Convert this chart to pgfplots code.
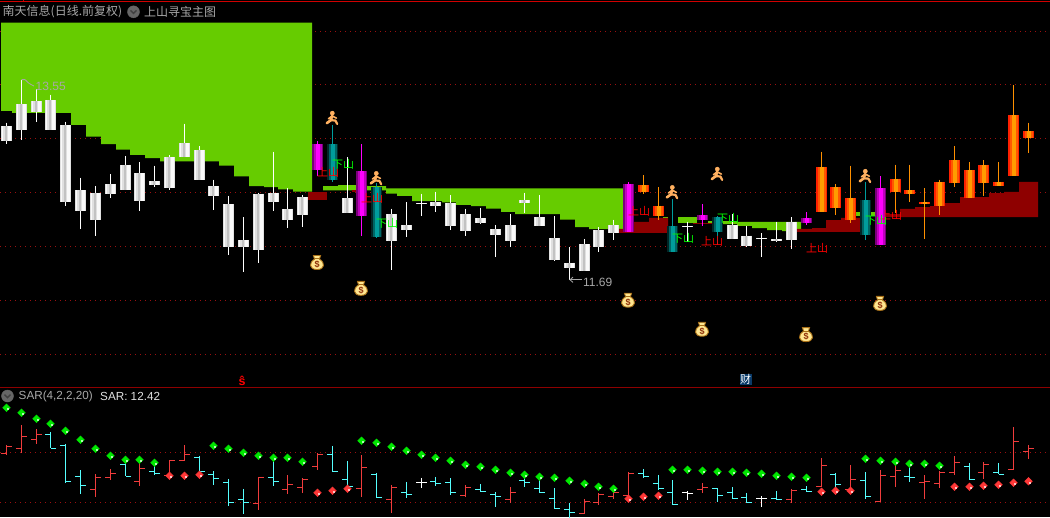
\documentclass[border=0pt]{standalone}
\usepackage{fontspec}
\usepackage{pgfplots}
\usepackage{pgfplotstable}
\pgfplotsset{compat=1.18}
\setmainfont{Liberation Sans}
\newfontfamily\cjk{Noto Sans CJK SC}
\definecolor{gridred}{HTML}{9A1010}
\definecolor{barea}{HTML}{8E0000}
\definecolor{garea}{HTML}{66CC00}
\definecolor{txtgray}{HTML}{A8A8A8}
\definecolor{barred}{HTML}{F03C3C}
\definecolor{barcyan}{HTML}{55FFFF}
\definecolor{wickT}{HTML}{009C9C}
\definecolor{wickO}{HTML}{FF9000}
\definecolor{wickM}{HTML}{FF00FF}
\definecolor{mag1}{HTML}{7A007A}
\definecolor{mag2}{HTML}{C000C0}
\definecolor{org1}{HTML}{FF2000}
\definecolor{org2}{HTML}{FF5800}
\definecolor{org3}{HTML}{FF9C00}
\definecolor{runner}{HTML}{FFB060}
\definecolor{bagfill}{HTML}{FFE690}
\definecolor{bagline}{HTML}{A87018}
\definecolor{sarg}{HTML}{00E800}
\definecolor{sarr}{HTML}{FF3838}
\definecolor{topred}{HTML}{D00000}

% white candles, rising
\pgfplotstableread{
x open close high low
6.5 12.98 13.12 13.15 12.95
21.5 13.08 13.32 13.55 12.99
36.5 13.25 13.35 13.46 13.16
95.5 12.25 12.50 12.56 12.10
110.5 12.49 12.58 12.67 12.45
139.5 12.42 12.68 12.78 12.33
169.5 12.54 12.83 12.85 12.52
184.5 12.83 12.96 13.14 12.83
258.5 11.97 12.49 12.50 11.85
287.5 12.25 12.35 12.54 12.17
302.5 12.29 12.46 12.48 12.18
391.5 12.05 12.30 12.35 11.78
465.5 12.14 12.30 12.35 12.10
510.5 12.05 12.20 12.30 11.99
584.5 11.77 12.02 12.07 11.77
598.5 11.99 12.15 12.18 11.95
613.5 12.12 12.20 12.25 12.06
791.5 12.06 12.23 12.27 11.98
}\WU
% white candles, falling
\pgfplotstableread{
x open close high low
50.5 13.36 13.08 13.41 13.08
65.5 13.13 12.41 13.16 12.38
80.5 12.52 12.33 12.64 12.16
125.5 12.76 12.52 12.84 12.52
154.5 12.61 12.57 12.75 12.55
199.5 12.90 12.62 12.93 12.62
213.5 12.56 12.47 12.62 12.34
228.5 12.39 11.99 12.47 11.92
243.5 12.06 11.99 12.27 11.76
273.5 12.50 12.41 12.88 12.33
347.5 12.45 12.31 12.83 12.31
406.5 12.20 12.15 12.41 12.09
435.5 12.41 12.38 12.51 12.32
450.5 12.40 12.19 12.48 12.15
480.5 12.26 12.22 12.36 12.21
495.5 12.16 12.11 12.20 11.90
524.5 12.43 12.40 12.50 12.31
539.5 12.27 12.19 12.48 12.19
554.5 12.08 11.87 12.28 11.86
569.5 11.85 11.80 11.99 11.69
732.5 12.20 12.07 12.30 12.07
746.5 12.10 12.00 12.19 11.99
776.5 12.07 12.05 12.23 12.04
}\WD
% white candles, flat
\pgfplotstableread{
x open close high low
421.5 12.40 12.39 12.49 12.28
687.5 12.19 12.18 12.23 12.04
761.5 12.08 12.07 12.12 11.90
}\WF
% magenta candles, rising
\pgfplotstableread{
x open close high low
317.5 12.71 12.95 12.98 12.65
361.5 12.28 12.70 12.95 12.10
628.5 12.13 12.58 12.60 12.13
702.5 12.25 12.29 12.39 12.19
880.5 12.01 12.54 12.65 12.01
}\MU
% magenta candles, falling
\pgfplotstableread{
x open close high low
806.5 12.26 12.22 12.32 12.20
}\MD
% teal candles, falling
\pgfplotstableread{
x open close high low
332.5 12.95 12.62 13.13 12.60
376.5 12.55 12.09 12.59 12.08
672.5 12.19 11.95 12.44 11.95
717.5 12.27 12.13 12.28 12.01
865.5 12.43 12.11 12.60 12.06
}\TD
% orange candles, rising
\pgfplotstableread{
x open close high low
821.5 12.32 12.74 12.88 12.32
850.5 12.25 12.45 12.75 12.22
895.5 12.51 12.63 12.76 12.31
924.5 12.39 12.41 12.54 12.07
939.5 12.38 12.60 12.62 12.29
954.5 12.59 12.80 12.93 12.55
983.5 12.59 12.76 12.80 12.47
1013.5 12.65 13.22 13.50 12.65
1028.5 13.01 13.07 13.15 12.87
}\OU
% orange candles, falling
\pgfplotstableread{
x open close high low
643.5 12.57 12.51 12.66 12.49
658.5 12.38 12.28 12.55 12.25
835.5 12.55 12.36 12.58 12.29
909.5 12.52 12.49 12.76 12.41
969.5 12.71 12.45 12.78 12.45
998.5 12.60 12.56 12.78 12.56
}\OD

\pgfplotsset{
  panel/.style={scale only axis,width=1050bp,xmin=0,xmax=1050,
    xtick=\empty,ytick=\empty,axis line style={draw=none},
    axis background/.style={fill=black}},
}
\newcommand{\wick}[2]{\addplot[draw=none,mark=none,forget plot,
  error bars/.cd,y dir=minus,y explicit,error mark=none,
  error bar style={line width=1.25bp,draw=#2}]
  table[x=x,y=high,y error expr=\thisrow{high}-\thisrow{low}]{#1};}
\newcommand{\layer}[4]{\addplot[draw=none,mark=none,forget plot,
  error bars/.cd,y dir=minus,y explicit,error mark=none,
  error bar style={line width=#3bp,draw=#2}]
  table[x expr=\thisrow{x}+#4,y expr={max(\thisrow{open},\thisrow{close})},
        y error expr={abs(\thisrow{open}-\thisrow{close})}]{#1};}
\newcommand{\ohlcbar}[2]{\wick{#1}{#2}%
  \addplot[only marks,mark=ltick,color=#2,line width=1.25bp] table[x=x,y=open]{#1};
  \addplot[only marks,mark=rtick,color=#2,line width=1.25bp] table[x=x,y=close]{#1};}
\newcommand{\gline}[1]{\addplot[gridred,line width=1bp,dash pattern=on 1bp off 4bp,forget plot] coordinates {(0,#1)(1050,#1)};}
\newcommand{\area}[2]{\addplot[fill=#1,draw=none,forget plot] coordinates {#2};}
\newcommand{\whitec}[1]{\layer{#1}{black!12}{11}{0}\layer{#1}{black!2}{9}{0}\layer{#1}{black!12}{5}{-1}\layer{#1}{black!24}{2}{-1}}
\newcommand{\magc}[1]{\layer{#1}{mag1}{11}{0}\layer{#1}{mag2}{8}{0}\layer{#1}{wickM}{4}{0}}
\newcommand{\tealc}[1]{\layer{#1}{black!75!wickT}{11}{0}\layer{#1}{black!35!wickT}{8}{0}\layer{#1}{wickT}{4}{0}}
\newcommand{\orgc}[1]{\layer{#1}{org1}{11}{0}\layer{#1}{org2}{8}{0}\layer{#1}{org3}{4}{0}}

\pgfdeclareplotmark{ltick}{\pgfpathmoveto{\pgfpoint{-5.5bp}{0pt}}\pgfpathlineto{\pgfpoint{0pt}{0pt}}\pgfusepathqstroke}
\pgfdeclareplotmark{rtick}{\pgfpathmoveto{\pgfpoint{5.5bp}{0pt}}\pgfpathlineto{\pgfpoint{0pt}{0pt}}\pgfusepathqstroke}
\pgfdeclareplotmark{sarg}{\fill[sarg] (-3.8bp,0bp)--(0bp,3.8bp)--(3.8bp,0bp)--(0bp,-3.8bp)--cycle;\fill[white!70!sarg] (0.6bp,-1.5bp) rectangle (1.5bp,-0.7bp);}
\pgfdeclareplotmark{sarr}{\fill[sarr] (-3.8bp,0bp)--(0bp,3.8bp)--(3.8bp,0bp)--(0bp,-3.8bp)--cycle;\fill[white!70!sarr] (0.6bp,-1.5bp) rectangle (1.5bp,-0.7bp);}
\pgfdeclareplotmark{runner}{%
  \fill[runner] (0.3bp,5.2bp) circle (2.1bp);
  \draw[runner,line width=2.6bp,line join=round,line cap=round] (0.2bp,2.6bp)--(-1.2bp,-1.8bp)--(-5.2bp,-4.8bp);
  \draw[runner,line width=2.2bp,line join=round,line cap=round] (-1.2bp,-1.8bp)--(3.4bp,-2.2bp)--(5.2bp,-5.6bp);
  \draw[runner,line width=1.6bp,line cap=round] (0.2bp,2.4bp)--(-3.6bp,-0.4bp);
  \draw[runner,line width=1.6bp,line cap=round] (0.2bp,2.4bp)--(4.4bp,0.2bp);}
\pgfdeclareplotmark{bag}{%
  \fill[bagfill,draw=bagline,line width=0.9bp] (-2.4bp,3.4bp)--(-3.6bp,7bp)--(3.6bp,7bp)--(2.4bp,3.4bp)
     .. controls (8.5bp,0bp) and (8bp,-7bp) .. (0bp,-7bp) .. controls (-8bp,-7bp) and (-8.5bp,0bp) .. cycle;
  \draw[bagline,line width=1bp] (-2.6bp,3.6bp)--(2.6bp,3.6bp);
  \node[inner sep=0pt,text=bagline!60!red!70!black] at (0bp,-1.8bp) {\fontsize{9bp}{9bp}\selectfont\bfseries\$};}
\pgfdeclareplotmark{chev}{%
  \fill[black!60!white] (0bp,0bp) circle (6bp);
  \draw[black!75!white,line width=1.4bp] (-3bp,1.4bp)--(0bp,-1.6bp)--(3bp,1.4bp);}

\begin{document}
\begin{tikzpicture}
%--------------------- main panel -------------------------
\begin{axis}[panel,name=main,at={(0,0)},anchor=south west,height=388bp,ymin=10.684,ymax=14.29]
\gline{14}\gline{13.5}\gline{13}\gline{12.5}\gline{12}\gline{11.5}\gline{11}
% green stepped zones
\area{garea}{(1,14.08)(312,14.08)(312,12.51)(293,12.51)(293,12.53)(278,12.53)(278,12.55)(264,12.55)(264,12.56)(249,12.56)(249,12.65)(234,12.65)(234,12.75)(219,12.75)(219,12.79)(160,12.79)(160,12.82)(145,12.82)(145,12.85)(130,12.85)(130,12.90)(116,12.90)(116,12.95)(101,12.95)(101,13.02)(86,13.02)(86,13.13)(71,13.13)(71,13.24)(12,13.24)(12,13.26)(1,13.26)}
\area{garea}{(323,12.56)(338,12.56)(338,12.57)(367,12.57)(367,12.56)(386,12.56)(386,12.54)(623,12.54)(623,12.16)(589,12.16)(589,12.18)(575,12.18)(575,12.25)(560,12.25)(560,12.30)(515,12.30)(515,12.32)(501,12.32)(501,12.35)(486,12.35)(486,12.375)(471,12.375)(471,12.385)(456,12.385)(456,12.41)(442,12.41)(442,12.42)(412,12.42)(412,12.47)(397,12.47)(397,12.49)(386,12.49)(386,12.52)(323,12.52)}
\area{garea}{(663,12.275)(668,12.275)(668,12.265)(663,12.265)}
\area{garea}{(678,12.273)(697,12.273)(697,12.217)(678,12.217)}
\area{garea}{(708,12.236)(712,12.236)(712,12.217)(708,12.217)}
\area{garea}{(723,12.236)(737,12.236)(737,12.227)(801,12.227)(801,12.143)(782,12.143)(782,12.152)(767,12.152)(767,12.171)(752,12.171)(752,12.19)(737,12.19)(737,12.208)(723,12.208)}
\area{garea}{(856,12.32)(875,12.32)(875,12.282)(856,12.282)}
% dark red stepped zones
\area{barea}{(308,12.506)(327,12.506)(327,12.431)(308,12.431)}
\area{barea}{(352,12.524)(367,12.524)(367,12.506)(352,12.506)}
\area{barea}{(619,12.162)(634,12.162)(634,12.227)(649,12.227)(649,12.264)(668,12.264)(668,12.125)(619,12.125)}
\area{barea}{(693,12.217)(712,12.217)(712,12.208)(693,12.208)}
\area{barea}{(797,12.162)(812,12.162)(812,12.171)(826,12.171)(826,12.245)(841,12.245)(841,12.264)(860,12.264)(860,12.134)(797,12.134)}
\area{barea}{(886,12.301)(900,12.301)(900,12.348)(915,12.348)(915,12.366)(930,12.366)(930,12.375)(945,12.375)(945,12.403)(960,12.403)(960,12.459)(989,12.459)(989,12.496)(1004,12.496)(1004,12.506)(1019,12.506)(1019,12.599)(1038,12.599)(1038,12.273)(886,12.273)}
% separators
\addplot[color=topred,line width=1.5bp,forget plot] coordinates {(0,14.274)(1050,14.274)};
\addplot[color=topred,line width=1.2bp,forget plot] coordinates {(23.5,14.29)(23.5,14.27)};
\addplot[color=barea,line width=1.2bp,forget plot] coordinates {(0,10.69)(1050,10.69)};
% candles
\wick{\WU}{white}\wick{\WD}{white}\wick{\WF}{white}
\wick{\MU}{wickM}\wick{\MD}{wickM}\wick{\TD}{wickT}\wick{\OU}{wickO}\wick{\OD}{wickO}
\whitec{\WU}\whitec{\WD}
\layer{\WF}{black!12}{11}{0}\layer{\WF}{black!2}{9}{0}
\magc{\MU}\magc{\MD}\tealc{\TD}\orgc{\OU}\orgc{\OD}
% extreme-value pointers
\addplot[txtgray,line width=0.8bp,forget plot] coordinates {(21.5,13.55)(25,13.55)(29,13.515)(34,13.49)};
\addplot[txtgray,line width=0.8bp,forget plot] coordinates {(570,11.69)(582,11.69)};
\addplot[txtgray,line width=0.8bp,forget plot] coordinates {(573,11.715)(570,11.69)(573,11.665)};
% icons
\addplot[only marks,mark=runner] coordinates {(332,13.19)(376,12.63)(672,12.50)(717,12.67)(865,12.65)};
\addplot[only marks,mark=bag] coordinates {(317,11.85)(361,11.61)(628,11.50)(702,11.23)(806,11.18)(880,11.47)};
\addplot[only marks,mark=chev] coordinates {(133.5,14.18)};
% text
\node[anchor=west,inner sep=0pt,text=txtgray] at (axis cs:2.5,14.18) {\cjk\fontsize{12bp}{14bp}\selectfont 南天信息(日线.前复权)};
\node[anchor=west,inner sep=0pt,text=txtgray] at (axis cs:144,14.18) {\cjk\fontsize{12bp}{14bp}\selectfont 上山寻宝主图};
\node[anchor=west,inner sep=0pt,text=txtgray] at (axis cs:35.5,13.49) {\fontsize{12bp}{14bp}\selectfont 13.55};
\node[anchor=west,inner sep=0pt,text=txtgray] at (axis cs:583,11.67) {\fontsize{12bp}{14bp}\selectfont 11.69};
\foreach \px/\py in {328/12.69,372/12.45,639/12.33,712/12.05,817/11.985,891/12.29}
  {\edef\tmp{\noexpand\node[inner sep=0pt,text=red] at (axis cs:\px,\py) {\noexpand\cjk\noexpand\fontsize{11bp}{12bp}\noexpand\selectfont 上山};}\tmp}
\foreach \px/\py in {343/12.76,387/12.21,683/12.07,728/12.26,876/12.24}
  {\edef\tmp{\noexpand\node[inner sep=0pt,text=green] at (axis cs:\px,\py) {\noexpand\cjk\noexpand\fontsize{11bp}{12bp}\noexpand\selectfont 下山};}\tmp}
\node[inner sep=0pt,text=red] at (axis cs:242,10.75) {\fontsize{12.5bp}{12bp}\selectfont\bfseries ŝ};
\node[fill={rgb,255:red,10;green,58;blue,104},text=white,inner sep=0.5pt] at (axis cs:745.5,10.765) {\cjk\fontsize{11bp}{12bp}\selectfont 财};
\end{axis}
%--------------------- SAR panel -------------------------
\begin{axis}[panel,name=sar,at={(0,0)},anchor=north west,height=129bp,ymin=11.706,ymax=14.286]
\gline{13}\gline{12}
\ohlcbar{\WU}{barred}\ohlcbar{\MU}{barred}\ohlcbar{\OU}{barred}
\ohlcbar{\WD}{barcyan}\ohlcbar{\MD}{barcyan}\ohlcbar{\TD}{barcyan}\ohlcbar{\OD}{barcyan}
\ohlcbar{\WF}{white}
\addplot[only marks,mark=sarg] coordinates {
(6.5,13.89)(21.5,13.79)(36.5,13.67)(50.5,13.57)(65.5,13.43)(80.5,13.25)(95.5,13.07)(110.5,12.93)(125.5,12.85)(139.5,12.85)(154.5,12.79)
(213.5,13.13)(228.5,13.07)(243.5,12.99)(258.5,12.93)(273.5,12.89)(287.5,12.89)(302.5,12.81)
(361.5,13.23)(376.5,13.19)(391.5,13.11)(406.5,13.03)(421.5,12.95)(435.5,12.89)(450.5,12.83)(465.5,12.75)(480.5,12.71)(495.5,12.65)(510.5,12.59)(524.5,12.55)(539.5,12.51)(554.5,12.49)(569.5,12.43)(584.5,12.37)(598.5,12.31)(613.5,12.27)
(672.5,12.65)(687.5,12.65)(702.5,12.63)(717.5,12.61)(732.5,12.61)(746.5,12.59)(761.5,12.57)(776.5,12.53)(791.5,12.51)(806.5,12.49)
(865.5,12.87)(880.5,12.83)(895.5,12.81)(909.5,12.77)(924.5,12.77)(939.5,12.73)};
\addplot[only marks,mark=sarr] coordinates {
(169.5,12.53)(184.5,12.53)(199.5,12.55)
(317.5,12.19)(332.5,12.23)(347.5,12.27)
(628.5,12.07)(643.5,12.11)(658.5,12.13)
(821.5,12.21)(835.5,12.23)(850.5,12.23)
(954.5,12.31)(969.5,12.31)(983.5,12.33)(998.5,12.35)(1013.5,12.39)(1028.5,12.42)};
% header strip of the panel hides what runs above it
\area{black}{(0,14.286)(1050,14.286)(1050,13.886)(0,13.886)}
\addplot[only marks,mark=chev] coordinates {(7.5,14.126)};
\node[anchor=west,inner sep=0pt,text=txtgray] at (axis cs:18.5,14.126) {\fontsize{11.7bp}{13bp}\selectfont SAR(4,2,2,20)};
\node[anchor=west,inner sep=0pt,text=black!12] at (axis cs:100,14.126) {\fontsize{11.7bp}{13bp}\selectfont SAR: 12.42};
\end{axis}
\end{tikzpicture}
\end{document}
